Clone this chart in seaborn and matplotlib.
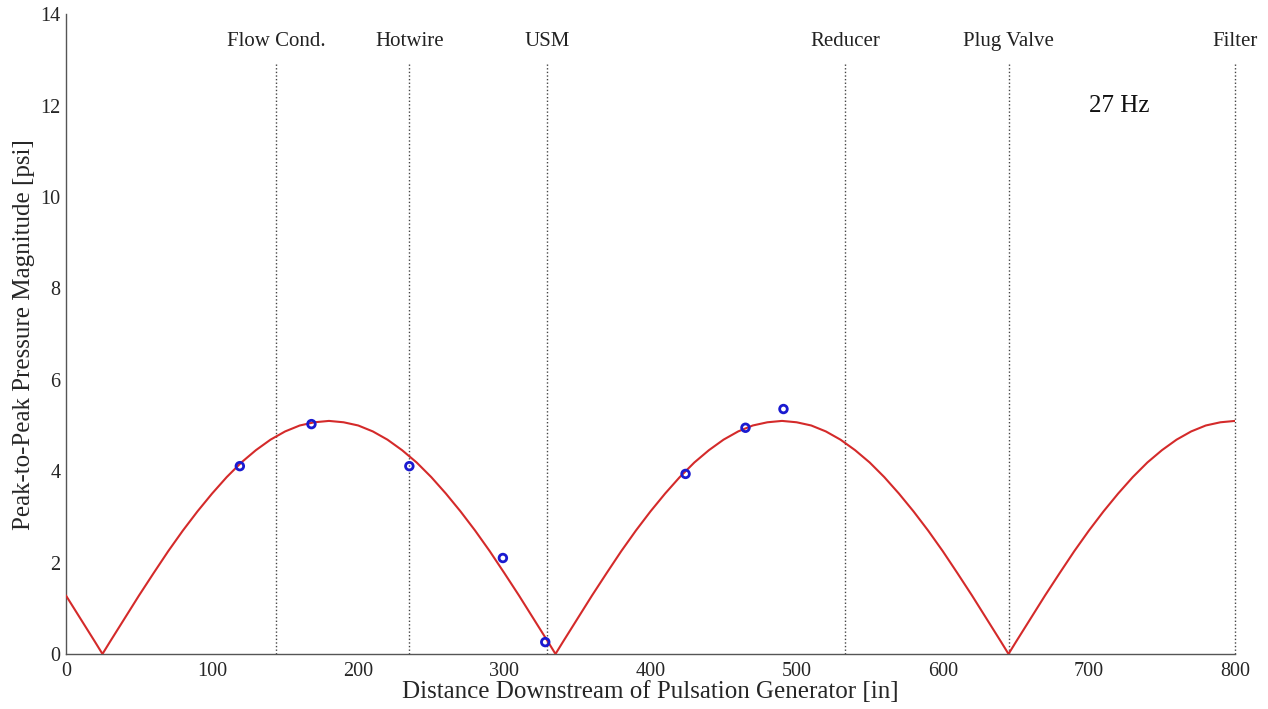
import matplotlib
matplotlib.use("Agg")
import matplotlib.pyplot as plt
import seaborn as sns
import pandas as pd

# Model curve
curve_x = [0, 10, 20, 25, 30, 40, 50, 60, 70, 80, 90, 100, 110, 120, 130, 140, 150, 160, 170, 180,
           190, 200, 210, 220, 230, 240, 250, 260, 270, 280, 290, 300, 310, 320, 330, 335,
           340, 350, 360, 370, 380, 390, 400, 410, 420, 430, 440, 450, 460, 470, 480, 490,
           500, 510, 520, 530, 540, 550, 560, 570, 580, 590, 600, 610, 620, 630, 640, 645,
           650, 660, 670, 680, 690, 700, 710, 720, 730, 740, 750, 760, 770, 780, 790, 800]
curve_y = [1.28, 0.77, 0.26, 0.0, 0.26, 0.77, 1.28, 1.77, 2.25, 2.70, 3.12, 3.51, 3.87, 4.19, 4.46, 4.69, 4.87, 5.00, 5.07, 5.10,
           5.07, 5.00, 4.87, 4.69, 4.46, 4.19, 3.87, 3.51, 3.12, 2.70, 2.25, 1.77, 1.28, 0.77, 0.26, 0.0,
           0.26, 0.77, 1.28, 1.77, 2.25, 2.70, 3.12, 3.51, 3.87, 4.19, 4.46, 4.69, 4.87, 5.00, 5.07, 5.10,
           5.07, 5.00, 4.87, 4.69, 4.46, 4.19, 3.87, 3.51, 3.12, 2.70, 2.25, 1.77, 1.28, 0.77, 0.26, 0.0,
           0.26, 0.77, 1.28, 1.77, 2.25, 2.70, 3.12, 3.51, 3.87, 4.19, 4.46, 4.69, 4.87, 5.00, 5.07, 5.10]

# Measured points
meas_x = [119, 168, 235, 299, 328, 424, 465, 491]
meas_y = [4.11, 5.03, 4.11, 2.10, 0.26, 3.94, 4.95, 5.36]

# Component locations
comp_names = ["Flow Cond.", "Hotwire", "USM", "Reducer", "Plug Valve", "Filter"]
comp_x = [144, 235, 329, 533, 645, 800]

xticks = [0, 100, 200, 300, 400, 500, 600, 700, 800]
yticks = [0, 2, 4, 6, 8, 10, 12, 14]

sns.set_style("white")
plt.rcParams['font.family'] = ['Liberation Serif', 'DejaVu Serif']

fig = plt.figure(figsize=(12.68, 7.09), dpi=100)
ax = fig.add_axes([0.052, 0.0776, 0.922, 0.9024])

curve = pd.DataFrame({"x": curve_x, "y": curve_y})
meas = pd.DataFrame({"x": meas_x, "y": meas_y})

for name, xv in zip(comp_names, comp_x):
    ax.plot([xv, xv], [0, 12.95], linestyle=(0, (1, 1.6)), color="#444444", linewidth=1.0,
            zorder=1, clip_on=False)
    ax.text(xv, 13.4, name, ha="center", va="center", fontsize=15, color="#222222")

sns.lineplot(data=curve, x="x", y="y", ax=ax, color="#d42a2a", linewidth=1.5, zorder=3)
sns.scatterplot(data=meas, x="x", y="y", ax=ax, marker="o", s=30, facecolor="none",
                edgecolor="#1a1ad0", linewidth=2.0, zorder=4)

ax.text(721, 12.0, "27 Hz", ha="center", va="center", fontsize=18, color="#111111")

ax.set_xlim(0, 800)
ax.set_ylim(0, 14)
ax.set_xticks(xticks)
ax.set_yticks(yticks)
ax.set_xlabel("Distance Downstream of Pulsation Generator [in]", fontsize=18, labelpad=0)
ax.set_ylabel("Peak-to-Peak Pressure Magnitude [psi]", fontsize=18, labelpad=4)

for s in ["top", "right"]:
    ax.spines[s].set_visible(False)
for s in ["left", "bottom"]:
    ax.spines[s].set_color("#555555")
    ax.spines[s].set_linewidth(1.0)
ax.tick_params(axis="x", direction="in", length=9, width=1, color="#555555", labelsize=14.5, pad=6)
ax.tick_params(axis="y", direction="in", length=6, width=1, color="#555555", labelsize=14.5, pad=4)

fig.savefig("out.png", dpi=100)
